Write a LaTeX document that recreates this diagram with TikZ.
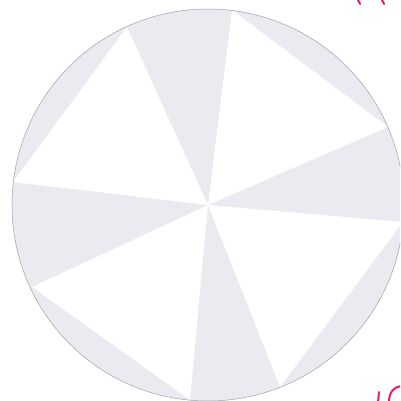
\documentclass[tikz,border=0pt]{standalone}
\begin{document}
\begin{tikzpicture}[x=1pt,y=-1pt,
  diskfill/.style={fill={rgb,255:red,234;green,234;blue,240}},
  rim/.style={draw={rgb,255:red,160;green,160;blue,172},line width=0.5pt},
  blade/.style={fill=white},
  ink/.style={draw={rgb,255:red,235;green,30;blue,100},line width=2pt,line cap=round}]
\useasboundingbox (0,0) rectangle (400,401);
\begin{scope}
\clip (0,0) rectangle (400,401);
\coordinate (c) at (208,205);
\coordinate (t1) at (127,27);
\coordinate (t2) at (232,10);
\coordinate (r1) at (388,127);
\coordinate (r2) at (403,222);
\coordinate (b1) at (280,387);
\coordinate (b2) at (190,400);
\coordinate (l1) at (32,287);
\coordinate (l2) at (13,182);
\fill[diskfill] (c) circle[radius=196];
\fill[blade] (c) -- (l2) -- (t1) -- cycle;
\fill[blade] (c) -- (t2) -- (r1) -- cycle;
\fill[blade] (c) -- (r2) -- (b1) -- cycle;
\fill[blade] (c) -- (b2) -- (l1) -- cycle;
\draw[rim] (c) circle[radius=196];
% pink pen marks at the corners
\draw[ink] (357,-2) -- (360,4);
\draw[ink] (381,-2) -- (384,4);
\draw[ink] (379,392) -- (378,402);
\draw[ink] (389,402) .. controls (389,392) and (394,387) .. (401,386);
\end{scope}
\end{tikzpicture}
\end{document}
